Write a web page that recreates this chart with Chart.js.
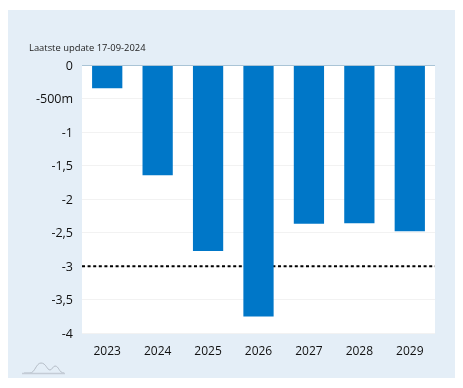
<!DOCTYPE html>
<html>
<head>
<meta charset="utf-8">
<script src="https://cdn.jsdelivr.net/npm/chart.js@4"></script>
<style>
  html, body { margin: 0; background: #fff; }
  #wrap { position: relative; width: 463px; height: 388px; overflow: hidden; }
  #panel { position: absolute; left: 8px; top: 10px; width: 447px; height: 368px; background: #e4eef7; }
  #update { position: absolute; left: 29px; top: 41px; font: 9.4px "Open Sans", sans-serif; line-height: 14px; color: #222; white-space: nowrap; }
  #logo { position: absolute; left: 21px; top: 361px; }
  canvas { position: absolute; left: 0; top: 0; }
</style>
</head>
<body>
<div id="wrap">
  <div id="panel"></div>
  <canvas id="chartSaldo" width="463" height="388"></canvas>
  <div id="update">Laatste update 17-09-2024</div>
  <svg id="logo" width="46" height="14" viewBox="0 0 46 14">
    <path d="M3 12 H9 C14 12 15 2 20 2 C25 2 26 9 29 9 C31 9 32 5 34 5 C38 5 38 12 43 12" fill="none" stroke="#b4bcc6" stroke-width="1"/>
    <path d="M1 12.5 H44" fill="none" stroke="#c4ccd6" stroke-width="1.5"/>
  </svg>
</div>
<script>
const years = ['2023', '2024', '2025', '2026', '2027', '2028', '2029'];
const saldo = [-0.34, -1.64, -2.77, -3.75, -2.365, -2.355, -2.475];
const norm = [-3, -3];
const yTicks = ['0', '-500m', '-1', '-1,5', '-2', '-2,5', '-3', '-3,5', '-4'];

const plotBackground = {
  id: 'plotBackground',
  beforeDraw(chart) {
    const a = chart.chartArea;
    chart.ctx.fillStyle = '#fff';
    chart.ctx.fillRect(a.left, a.top, a.width, a.height);
  }
};

new Chart(document.getElementById('chartSaldo'), {
  data: {
    labels: years,
    datasets: [{
      type: 'bar',
      data: saldo,
      backgroundColor: '#0077c8',
      barPercentage: 0.6,
      categoryPercentage: 1,
      grouped: false,
      order: 1
    }, {
      type: 'line',
      xAxisID: 'xNorm',
      data: [{ x: 0, y: norm[0] }, { x: 1, y: norm[1] }],
      borderColor: '#000',
      borderWidth: 2,
      borderDash: [3, 2.6],
      pointRadius: 0,
      order: 2
    }]
  },
  options: {
    responsive: false,
    animation: false,
    layout: { padding: { left: 0, right: 28, top: 65.4, bottom: 0 } },
    scales: {
      x: {
        grid: { display: false },
        border: { display: false },
        ticks: { color: '#111', font: { family: 'Open Sans', size: 12 }, padding: 3, maxRotation: 0 },
        afterFit(scale) { scale.height = 54.7; }
      },
      xNorm: { type: 'linear', display: false, min: 0, max: 1 },
      y: {
        min: -4,
        max: 0,
        grid: { color: ctx => ctx.tick.value === 0 ? '#a9c4d6' : '#f2f2f2', drawTicks: false },
        border: { display: false },
        ticks: {
          stepSize: 0.5,
          color: '#111',
          padding: 9,
          labelOffset: 1,
          font: { family: 'Open Sans', size: 12.5 },
          callback: (v, i) => yTicks[yTicks.length - 1 - i]
        },
        afterFit(scale) { scale.width = 82; }
      }
    },
    plugins: { legend: { display: false }, tooltip: { enabled: false } }
  },
  plugins: [plotBackground]
});
</script>
</body>
</html>
